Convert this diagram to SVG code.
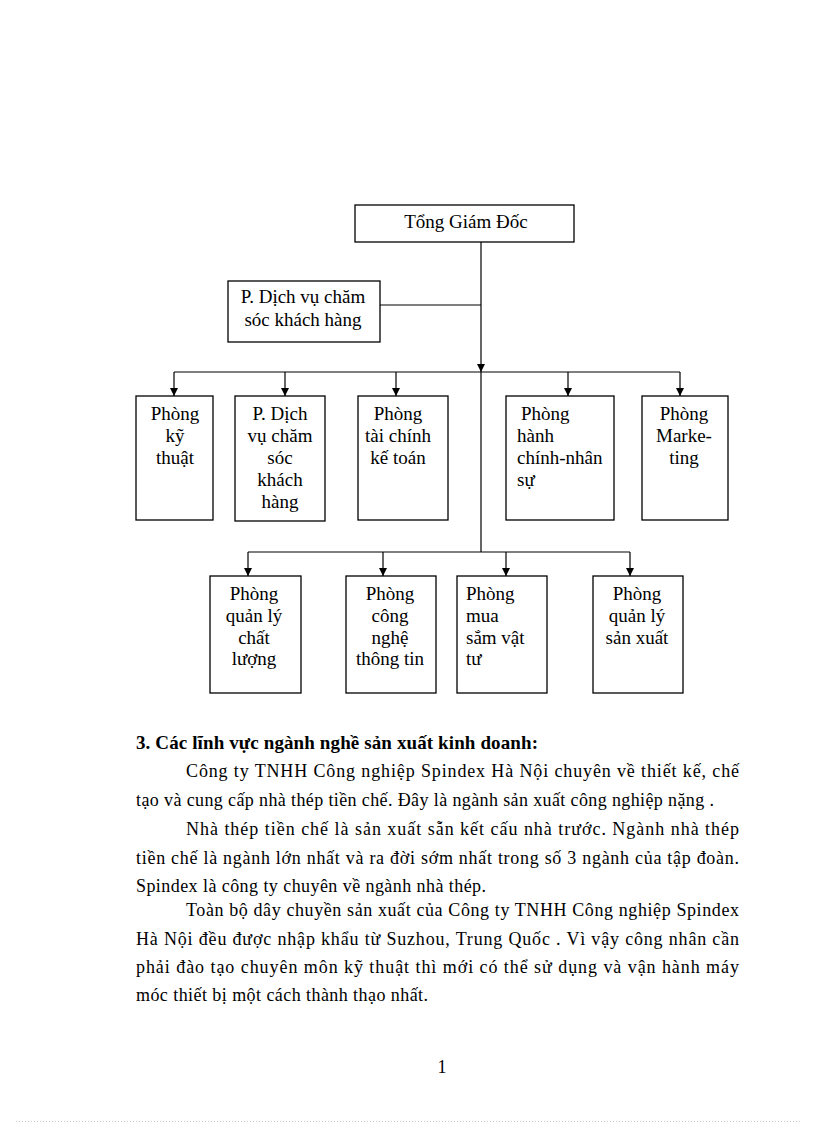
<svg xmlns="http://www.w3.org/2000/svg" width="816" height="1123" viewBox="0 0 816 1123">
<style>
.box{fill:#fff;stroke:#000;stroke-width:1.3}
.t{font-family:"Liberation Serif","Times New Roman",serif;font-size:19px;fill:#000}
.p{font-family:"Liberation Serif","Times New Roman",serif;font-size:18px;fill:#000}
.c{text-anchor:middle}
.ln{stroke:#000;stroke-width:1.2;fill:none}
.b{font-weight:bold;font-size:19px}
</style>
<defs>
<marker id="ar" markerWidth="9" markerHeight="9" refX="8" refY="4" orient="auto" markerUnits="userSpaceOnUse">
<path d="M0,0 L8,4 L0,8 z" fill="#000"/>
</marker>
</defs>
<rect width="816" height="1123" fill="#fff"/>
<g id="connectors">
<line class="ln" x1="481" y1="242" x2="481" y2="372" marker-end="url(#ar)"/>
<line class="ln" x1="380" y1="305" x2="481" y2="305"/>
<line class="ln" x1="174" y1="372" x2="680" y2="372"/>
<line class="ln" x1="174" y1="372" x2="174" y2="396" marker-end="url(#ar)"/>
<line class="ln" x1="285" y1="372" x2="285" y2="396" marker-end="url(#ar)"/>
<line class="ln" x1="396" y1="372" x2="396" y2="396" marker-end="url(#ar)"/>
<line class="ln" x1="568" y1="372" x2="568" y2="396" marker-end="url(#ar)"/>
<line class="ln" x1="680" y1="372" x2="680" y2="396" marker-end="url(#ar)"/>
<line class="ln" x1="481" y1="372" x2="481" y2="552"/>
<line class="ln" x1="248" y1="552" x2="630" y2="552"/>
<line class="ln" x1="248" y1="552" x2="248" y2="576" marker-end="url(#ar)"/>
<line class="ln" x1="383" y1="552" x2="383" y2="576" marker-end="url(#ar)"/>
<line class="ln" x1="506" y1="552" x2="506" y2="576" marker-end="url(#ar)"/>
<line class="ln" x1="630" y1="552" x2="630" y2="576" marker-end="url(#ar)"/>
</g>
<g id="n-tgd"><rect class="box" x="355" y="205" width="219" height="37"/><text class="t c" x="466" y="228">Tổng Giám Đốc</text></g>
<g id="n-pdv"><rect class="box" x="228" y="281" width="152" height="61"/><text class="t c" x="303" y="303">P. Dịch vụ chăm</text><text class="t c" x="303" y="326">sóc khách hàng</text></g>
<g id="n-kt"><rect class="box" x="136" y="396" width="77" height="124"/><text class="t c" x="175" y="420">Phòng</text><text class="t c" x="175" y="442">kỹ</text><text class="t c" x="175" y="464">thuật</text></g>
<g id="n-dv"><rect class="box" x="235" y="396" width="90" height="125"/><text class="t c" x="280" y="420">P. Dịch</text><text class="t c" x="280" y="442">vụ chăm</text><text class="t c" x="280" y="464">sóc</text><text class="t c" x="280" y="486">khách</text><text class="t c" x="280" y="508">hàng</text></g>
<g id="n-tc"><rect class="box" x="358" y="396" width="90" height="124"/><text class="t c" x="398" y="420">Phòng</text><text class="t c" x="398" y="442">tài chính</text><text class="t c" x="398" y="464">kế toán</text></g>
<g id="n-hc"><rect class="box" x="506" y="396" width="108" height="124"/><text class="t" x="521" y="420">Phòng</text><text class="t" x="517" y="442">hành</text><text class="t" x="517" y="464">chính-nhân</text><text class="t" x="517" y="486">sự</text></g>
<g id="n-mk"><rect class="box" x="642" y="396" width="86" height="124"/><text class="t c" x="684" y="420">Phòng</text><text class="t c" x="684" y="442">Marke-</text><text class="t c" x="684" y="464">ting</text></g>
<g id="n-cl"><rect class="box" x="210" y="576" width="91" height="117"/><text class="t c" x="254" y="600">Phòng</text><text class="t c" x="254" y="622">quản lý</text><text class="t c" x="254" y="644">chất</text><text class="t c" x="254" y="665">lượng</text></g>
<g id="n-cn"><rect class="box" x="346" y="576" width="90" height="117"/><text class="t c" x="390" y="600">Phòng</text><text class="t c" x="390" y="622">công</text><text class="t c" x="390" y="644">nghệ</text><text class="t c" x="390" y="665">thông tin</text></g>
<g id="n-ms"><rect class="box" x="457" y="576" width="90" height="117"/><text class="t" x="466" y="600">Phòng</text><text class="t" x="466" y="622">mua</text><text class="t" x="466" y="644">sắm vật</text><text class="t" x="466" y="665">tư</text></g>
<g id="n-sx"><rect class="box" x="593" y="576" width="90" height="117"/><text class="t c" x="637" y="600">Phòng</text><text class="t c" x="637" y="622">quản lý</text><text class="t c" x="637" y="644">sản xuất</text></g>
<g id="body">
<text class="p b" x="136" y="749" textLength="402" lengthAdjust="spacing">3. Các lĩnh vực ngành nghề sản xuất kinh doanh:</text>
<text class="p" x="186" y="777" textLength="553" lengthAdjust="spacing">Công ty TNHH Công nghiệp Spindex Hà Nội chuyên về thiết kế, chế</text>
<text class="p" x="136" y="806" textLength="578" lengthAdjust="spacing">tạo và cung cấp nhà thép tiền chế. Đây là ngành sản xuất công nghiệp nặng .</text>
<text class="p" x="186" y="835" textLength="553" lengthAdjust="spacing">Nhà thép tiền chế là sản xuất sẵn kết cấu nhà trước. Ngành nhà thép</text>
<text class="p" x="136" y="864" textLength="603" lengthAdjust="spacing">tiền chế là ngành lớn nhất và ra đời sớm nhất trong số 3 ngành của tập đoàn.</text>
<text class="p" x="136" y="892" textLength="350" lengthAdjust="spacing">Spindex là công ty chuyên về ngành nhà thép.</text>
<text class="p" x="186" y="916" textLength="553" lengthAdjust="spacing">Toàn bộ dây chuyền sản xuất của Công ty TNHH Công nghiệp Spindex</text>
<text class="p" x="136" y="945" textLength="603" lengthAdjust="spacing">Hà Nội đều được nhập khẩu từ Suzhou, Trung Quốc  . Vì vậy công nhân cần</text>
<text class="p" x="136" y="973" textLength="603" lengthAdjust="spacing">phải đào tạo chuyên môn kỹ thuật thì mới có thể sử dụng và vận hành máy</text>
<text class="p" x="136" y="1001" textLength="292" lengthAdjust="spacing">móc thiết bị một cách thành thạo nhất.</text>
<text class="p c" x="442" y="1073">1</text>
</g>
<line x1="16" y1="1121.5" x2="800" y2="1121.5" stroke="#ccc" stroke-width="1" stroke-dasharray="1,2"/>
</svg>
